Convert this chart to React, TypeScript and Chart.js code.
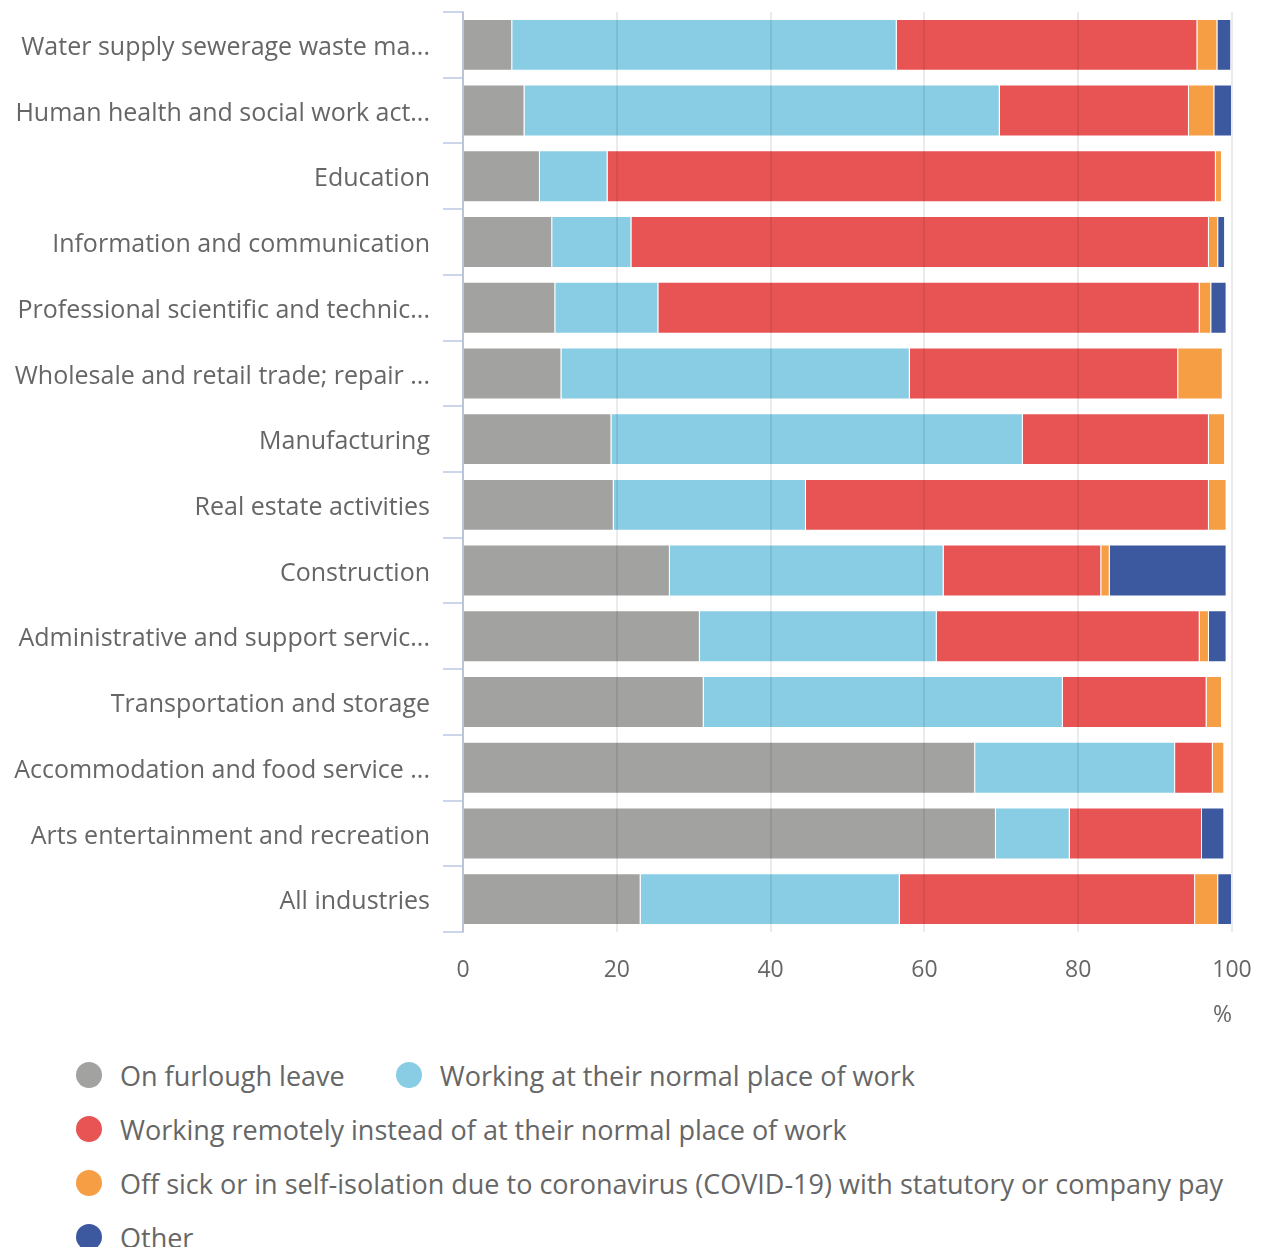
import React, { useEffect, useRef } from "react";
import { Chart, registerables } from "chart.js";

Chart.register(...registerables);

const categories = [
  "Water supply sewerage waste ma...",
  "Human health and social work act...",
  "Education",
  "Information and communication",
  "Professional scientific and technic...",
  "Wholesale and retail trade; repair ...",
  "Manufacturing",
  "Real estate activities",
  "Construction",
  "Administrative and support servic...",
  "Transportation and storage",
  "Accommodation and food service ...",
  "Arts entertainment and recreation",
  "All industries",
];

const onFurlough = [6.4, 8.0, 10.0, 11.6, 12.0, 12.8, 19.3, 19.6, 26.9, 30.8, 31.3, 66.6, 69.3, 23.1];
const normalPlace = [50.0, 61.8, 8.8, 10.3, 13.4, 45.3, 53.5, 25.0, 35.6, 30.8, 46.7, 26.0, 9.6, 33.7];
const remotely = [39.1, 24.6, 79.1, 75.1, 70.4, 34.9, 24.2, 52.4, 20.5, 34.2, 18.7, 4.9, 17.2, 38.4];
const offSick = [2.6, 3.3, 0.8, 1.2, 1.5, 5.8, 2.1, 2.3, 1.1, 1.2, 2.0, 1.5, null, 3.0];
const other = [1.8, 2.3, null, 0.9, 2.0, null, null, null, 15.2, 2.3, null, null, 2.9, 1.8];

const seriesNames = [
  "On furlough leave",
  "Working at their normal place of work",
  "Working remotely instead of at their normal place of work",
  "Off sick or in self-isolation due to coronavirus (COVID-19) with statutory or company pay",
  "Other",
];
const seriesColors = ["#a2a2a0", "#89cde4", "#e85454", "#f59e43", "#3c59a0"];
const seriesData = [onFurlough, normalPlace, remotely, offSick, other];

const xTicksStep = 20;
const FONT = "'Open Sans', 'Noto Sans', sans-serif";
const TEXT = "#666666";

export default function App() {
  const ref = useRef<HTMLCanvasElement | null>(null);

  useEffect(() => {
    if (!ref.current) return;
    const chart = new Chart(ref.current, {
      type: "bar",
      data: {
        labels: categories,
        datasets: seriesNames.map((name, i) => ({
          label: name,
          data: seriesData[i] as any,
          backgroundColor: seriesColors[i],
          borderColor: "rgba(255,255,255,0.55)",
          borderWidth: 1,
          barPercentage: 0.79,
          categoryPercentage: 1,
        })),
      },
      options: {
        indexAxis: "y",
        animation: false,
        responsive: true,
        maintainAspectRatio: false,
        layout: { padding: { top: 4, right: 21, left: 0, bottom: 0 } },
        plugins: {
          legend: { display: false },
          tooltip: { enabled: false },
        },
        scales: {
          x: {
            stacked: true,
            min: 0,
            max: 100,
            ticks: {
              stepSize: xTicksStep,
              color: TEXT,
              font: { family: FONT, size: 23 },
              padding: 25,
            },
            grid: {
              color: "rgba(0,0,0,0.08)",
              lineWidth: 2,
              drawTicks: false,
              z: 1,
            },
            border: { display: false },
            title: {
              display: true,
              text: "%",
              align: "end",
              color: TEXT,
              font: { family: FONT, size: 23 },
              padding: { top: 0, bottom: 19 },
            },
            afterFit: (s: any) => {
              s.height = 116;
              s.paddingLeft = 0;
              s.paddingRight = 0;
            },
          },
          y: {
            stacked: true,
            grid: {
              drawOnChartArea: false,
              drawTicks: true,
              tickLength: 20,
              color: "#ccd6eb",
              lineWidth: 2,
              offset: true,
            },
            border: { display: true, color: "#ccd6eb", width: 2 },
            ticks: {
              color: TEXT,
              font: { family: FONT, size: 25 },
              padding: 13,
              labelOffset: 3,
              autoSkip: false,
            },
            afterFit: (s: any) => {
              s.width = 455;
              s.paddingTop = 0;
              s.paddingBottom = 0;
            },
          },
        },
      },
    });
    return () => chart.destroy();
  }, []);

  const dot = (c: string) => (
    <span
      style={{
        display: "inline-block",
        width: 26,
        height: 26,
        borderRadius: "50%",
        background: c,
        marginRight: 18,
        flex: "0 0 auto",
      }}
    />
  );

  const rows = [[0, 1], [2], [3], [4]];

  return (
    <div>
      <div style={{ position: "relative", height: 1040, width: "100%" }}>
        <canvas ref={ref} style={{ display: "block" }} />
      </div>
      <div style={{ fontFamily: FONT, fontSize: 27, color: TEXT, paddingLeft: 68 }}>
        {rows.map((r, ri) => (
          <div key={ri} style={{ display: "flex", alignItems: "center", height: 54, whiteSpace: "nowrap" }}>
            {r.map((idx, k) => (
              <span key={idx} style={{ display: "flex", alignItems: "center", marginLeft: k > 0 ? 51 : 0 }}>
                {dot(seriesColors[idx])}
                <span>{seriesNames[idx]}</span>
              </span>
            ))}
          </div>
        ))}
      </div>
    </div>
  );
}
